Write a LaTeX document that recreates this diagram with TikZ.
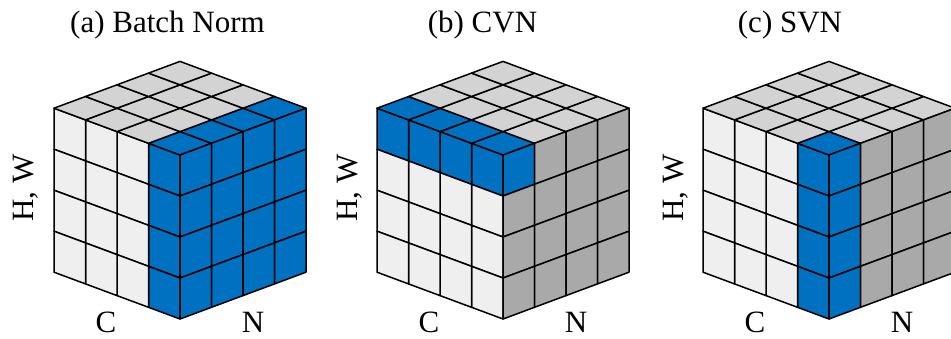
\documentclass[tikz,border=0pt]{standalone}
\usepackage{fontspec}
\setmainfont{Liberation Serif}
\definecolor{cblue}{HTML}{0070C0}
\definecolor{cleft}{HTML}{EFEFEF}
\definecolor{ctop}{HTML}{D3D3D3}
\definecolor{cright}{HTML}{A9A9A9}
\tikzset{
  cell/.style={draw=black, line width=1.5pt, line join=round},
  lbl/.style={font=\fontsize{31}{34}\selectfont, inner sep=0pt}
}
% #1 front x, #2 left-face test (\i,\j), #3 top-face test (\i,\k), #4 right-face test (\k,\j), #5 tag, #6 title, #7 title centre x
\newcommand\drawcube[7]{%
  \begin{scope}[shift={(#1pt,-155pt)}, x={(-31.5pt,11.7pt)}, y={(31.5pt,11.7pt)}, z={(0pt,-41pt)}]
    \foreach \i in {0,...,3}{\foreach \j in {0,...,3}{
      \pgfmathtruncatemacro\isblue{#2}
      \ifnum\isblue=1 \def\fc{cblue}\else\def\fc{cleft}\fi
      \filldraw[cell, fill=\fc] (\i,0,\j) -- ({\i+1},0,\j) -- ({\i+1},0,{\j+1}) -- (\i,0,{\j+1}) -- cycle;
    }}
    \foreach \i in {0,...,3}{\foreach \k in {0,...,3}{
      \pgfmathtruncatemacro\isblue{#3}
      \ifnum\isblue=1 \def\fc{cblue}\else\def\fc{ctop}\fi
      \filldraw[cell, fill=\fc] (\i,\k,0) -- ({\i+1},\k,0) -- ({\i+1},{\k+1},0) -- (\i,{\k+1},0) -- cycle;
    }}
    \foreach \k in {0,...,3}{\foreach \j in {0,...,3}{
      \pgfmathtruncatemacro\isblue{#4}
      \ifnum\isblue=1 \def\fc{cblue}\else\def\fc{cright}\fi
      \filldraw[cell, fill=\fc] (0,\k,\j) -- (0,{\k+1},\j) -- (0,{\k+1},{\j+1}) -- (0,\k,{\j+1}) -- cycle;
    }}
  \end{scope}
  \node[lbl, anchor=base] (title#5) at (#7,32) {#6};
  \node[lbl, rotate=90, anchor=base] (hw#5) at ({#1-146},188) {H, W};
  \node[lbl, anchor=base] (c#5) at ({#1-74},332) {C};
  \node[lbl, anchor=base] (n#5) at ({#1+73},332) {N};
}
\begin{document}
\begin{tikzpicture}[x=1pt,y=-1pt]
  \fill[white] (0,0) rectangle (951,338);
  \useasboundingbox (0,0) rectangle (951,338);
  \clip (0,0) rectangle (951,338);
  \drawcube{180}{\i==0}{\i==0}{1}{a}{(a) Batch Norm}{167.5}
  \drawcube{503}{\j==0}{\k==0}{and(\k==0,\j==0)}{b}{(b) CVN}{482.5}
  \drawcube{829}{\i==0}{and(\i==0,\k==0)}{\k==0}{c}{(c) SVN}{790}
\end{tikzpicture}
\end{document}
